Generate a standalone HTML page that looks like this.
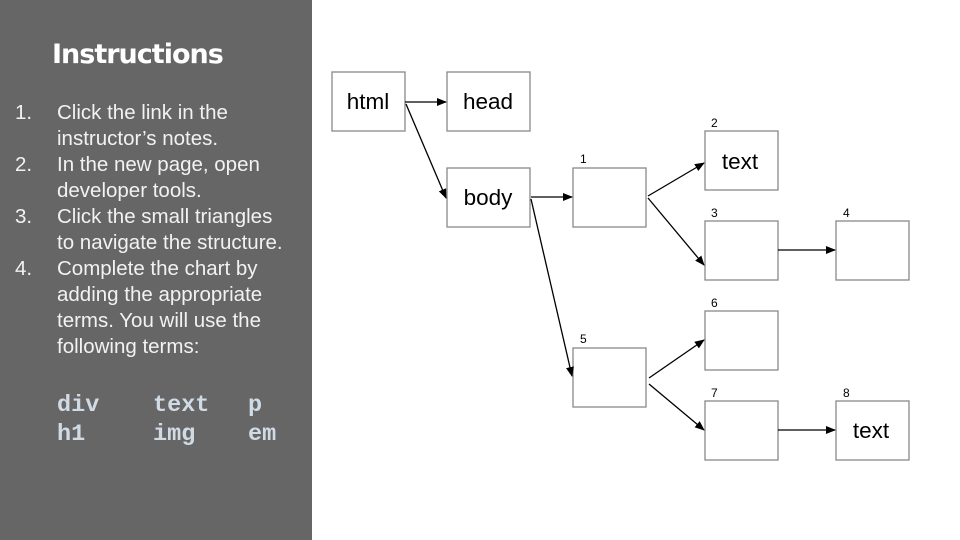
<!DOCTYPE html>
<html><head><meta charset="utf-8"><style>
body{margin:0;width:960px;height:540px;background:#fff;position:relative;overflow:hidden;font-family:"Liberation Sans",sans-serif}
#side{position:absolute;left:0;top:0;width:312px;height:540px;background:#666}
h1{position:absolute;left:52px;top:39px;margin:0;font:bold 27px "DejaVu Sans","Liberation Sans",sans-serif;color:#fff;letter-spacing:-1px}
.li{position:absolute;left:0;color:#f2f2f2;font-size:20.5px;line-height:26px}
.li .n{position:absolute;left:15px}
.li .t{position:absolute;left:57px;width:255px;white-space:nowrap}
.code{position:absolute;font:bold 23.5px "Liberation Mono",monospace;color:#d0dbe5}
</style></head><body>
<div id="side">
<h1>Instructions</h1>
<div class="li" style="top:100px"><span class="n">1.</span><span class="t">Click the link in the<br>instructor’s notes.</span></div>
<div class="li" style="top:152px"><span class="n">2.</span><span class="t">In the new page, open<br>developer tools.</span></div>
<div class="li" style="top:204px"><span class="n">3.</span><span class="t">Click the small triangles<br>to navigate the structure.</span></div>
<div class="li" style="top:256px"><span class="n">4.</span><span class="t">Complete the chart by<br>adding the appropriate<br>terms. You will use the<br>following terms:</span></div>
<div class="code" style="left:57px;top:392px">div</div>
<div class="code" style="left:153px;top:392px">text</div>
<div class="code" style="left:248px;top:392px">p</div>
<div class="code" style="left:57px;top:421px">h1</div>
<div class="code" style="left:153px;top:421px">img</div>
<div class="code" style="left:248px;top:421px">em</div>
</div>
<svg width="960" height="540" style="position:absolute;left:0;top:0">
<defs><marker id="a" markerWidth="10" markerHeight="8" refX="9" refY="4" orient="auto" markerUnits="userSpaceOnUse"><path d="M0,0 L10,4 L0,8z" fill="#000"/></marker></defs>
<g fill="#fff" stroke="#888" stroke-width="1.3">
<rect x="332" y="72" width="73" height="59"/>
<rect x="447" y="72" width="83" height="59"/>
<rect x="447" y="168" width="83" height="59"/>
<rect x="573" y="168" width="73" height="59"/>
<rect x="573" y="348" width="73" height="59"/>
<rect x="705" y="131" width="73" height="59"/>
<rect x="705" y="221" width="73" height="59"/>
<rect x="836" y="221" width="73" height="59"/>
<rect x="705" y="311" width="73" height="59"/>
<rect x="705" y="401" width="73" height="59"/>
<rect x="836" y="401" width="73" height="59"/>
</g>
<g stroke="#000" stroke-width="1.3" marker-end="url(#a)">
<line x1="405" y1="102" x2="446" y2="102"/>
<line x1="406" y1="104" x2="446" y2="198"/>
<line x1="531" y1="197" x2="572" y2="197"/>
<line x1="531" y1="199" x2="572" y2="376"/>
<line x1="648" y1="196" x2="704" y2="163"/>
<line x1="648" y1="198" x2="704" y2="265"/>
<line x1="778" y1="250" x2="835" y2="250"/>
<line x1="649" y1="378" x2="704" y2="340"/>
<line x1="649" y1="384" x2="704" y2="430"/>
<line x1="778" y1="430" x2="835" y2="430"/>
</g>
<g font-family="Liberation Sans,sans-serif" font-size="22.5" text-anchor="middle" fill="#000">
<text x="368" y="109">html</text>
<text x="488" y="109">head</text>
<text x="488" y="205">body</text>
<text x="740" y="169">text</text>
<text x="871" y="438">text</text>
</g>
<g font-family="Liberation Sans,sans-serif" font-size="12" fill="#000">
<text x="580" y="163">1</text>
<text x="711" y="127">2</text>
<text x="711" y="217">3</text>
<text x="843" y="217">4</text>
<text x="580" y="343">5</text>
<text x="711" y="307">6</text>
<text x="711" y="397">7</text>
<text x="843" y="397">8</text>
</g>
</svg>
</body></html>
